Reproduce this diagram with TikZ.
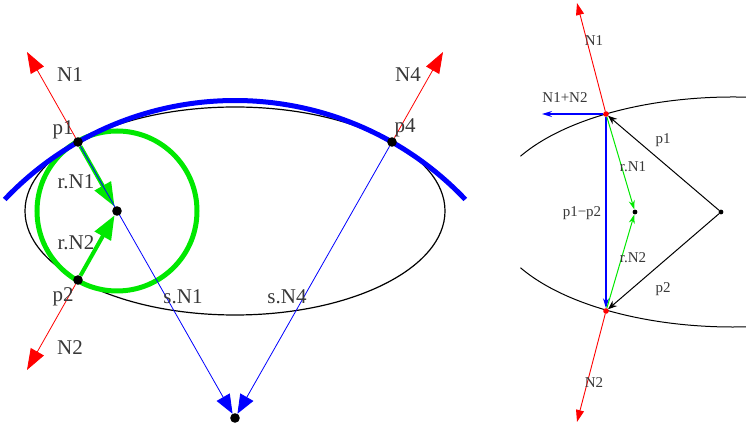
\documentclass[tikz,border=0pt]{standalone}
\usepackage{fontspec}
\setmainfont{Liberation Serif}
\usepackage{tikz}
\usetikzlibrary{arrows.meta}
\usepackage{xcolor}
\definecolor{brightgreen}{RGB}{0,232,0}

\begin{document}
\begin{tikzpicture}[
    x=1pt, y=1pt,
    every node/.style={text=black!78},
    big/.style={font=\fontsize{21}{24}\selectfont},
    small/.style={font=\fontsize{15}{18}\selectfont},
    spot/.style={circle, inner sep=0pt, minimum size=9.5pt},
    tiny/.style={circle, inner sep=0pt, minimum size=5pt},
    normal/.style={red, line width=0.8pt, -{Triangle[length=21pt, width=15pt]}},
    ray/.style={blue, line width=0.8pt, -{Triangle[length=19pt, width=15pt]}},
    radial/.style={brightgreen, line width=4pt, -{Triangle[length=24pt, width=18pt]}},
    snormal/.style={red, line width=0.9pt, -{Triangle[length=12pt, width=8pt]}},
    sblue/.style={blue, line width=1.2pt, -{Stealth[length=10pt, width=6pt]}},
    sgreen/.style={brightgreen, line width=1pt, -{Stealth[length=9pt, width=6pt]}},
    sblack/.style={black, line width=1pt, -{Stealth[length=9pt, width=7pt]}}
]
    \useasboundingbox (0,0) rectangle (746,425);

    % Left: ellipse, osculating circles
    \draw[line width=1.2pt] (235,214) ellipse [x radius=210pt, y radius=104pt];
    \draw[brightgreen, line width=5pt] (117,214) circle [radius=80pt];
    \draw[blue, line width=5pt] (235,7) ++(136.5:317.5pt)
        arc [start angle=136.5, end angle=43.5, radius=317.5pt];

    % Left: points
    \node[spot] (p1) at (78,283) {};
    \node[spot] (p2) at (78,145) {};
    \node[spot] (p4) at (392,283) {};
    \node[spot] (c) at (117,214) {};
    \node[spot] (s) at (235,7) {};
    \coordinate (n1) at (27,373);
    \coordinate (n2) at (27,55);
    \coordinate (n4) at (443,373);

    % Left: arrows
    \draw[normal] (p1) -- (n1);
    \draw[normal] (p2) -- (n2);
    \draw[normal] (p4) -- (n4);
    \draw[radial] (p1) -- (c);
    \draw[radial] (p2) -- (c);
    \draw[ray] (p1) -- (s);
    \draw[ray] (p4) -- (s);
    \foreach \p in {p1,p2,p4,c,s}
        \fill (\p) circle [radius=4.8pt];

    % Left: labels
    \node[big] at (70,350) {N1};
    \node[big] at (63,295) {p1};
    \node[big] at (76,243) {r.N1};
    \node[big] at (76,182) {r.N2};
    \node[big] at (63,128) {p2};
    \node[big] at (70,77) {N2};
    \node[big] at (183,128) {s.N1};
    \node[big] at (287,128) {s.N4};
    \node[big] at (408,350) {N4};
    \node[big] at (405,297) {p4};

    % Right: ellipse close-up
    \draw[line width=1pt] (733,213) ++(151:243pt and 115pt)
        arc [start angle=151, end angle=80, x radius=243pt, y radius=115pt];
    \draw[line width=1pt] (733,213) ++(209:243pt and 115pt)
        arc [start angle=209, end angle=280, x radius=243pt, y radius=115pt];

    % Right: points
    \node[tiny] (q1) at (606,311) {};
    \node[tiny] (q2) at (606,114) {};
    \node[tiny] (o) at (721,213) {};
    \node[tiny] (m) at (635,213) {};
    \coordinate (t1) at (577,422);
    \coordinate (t2) at (577,3);
    \coordinate (sum) at (542,311);

    % Right: arrows
    \draw[snormal] (q1) -- (t1);
    \draw[snormal] (q2) -- (t2);
    \draw[sblue] (q1) -- (sum);
    \draw[sblue] (q1) -- (q2);
    \draw[sgreen] (q1) -- (m);
    \draw[sgreen] (q2) -- (m);
    \draw[sblack] (o) -- (q1);
    \draw[sblack] (o) -- (q2);
    \fill[red] (q1) circle [radius=2.8pt];
    \fill[red] (q2) circle [radius=2.8pt];
    \fill (o) circle [radius=2.4pt];
    \fill (m) circle [radius=2.4pt];

    % Right: labels
    \node[small] at (594,384) {N1};
    \node[small] at (594,42) {N2};
    \node[small] at (565,327) {N1+N2};
    \node[small] at (582,212) {p1−p2};
    \node[small] at (633,258) {r.N1};
    \node[small] at (633,167) {r.N2};
    \node[small] at (663,285) {p1};
    \node[small] at (663,136) {p2};
\end{tikzpicture}
\end{document}
